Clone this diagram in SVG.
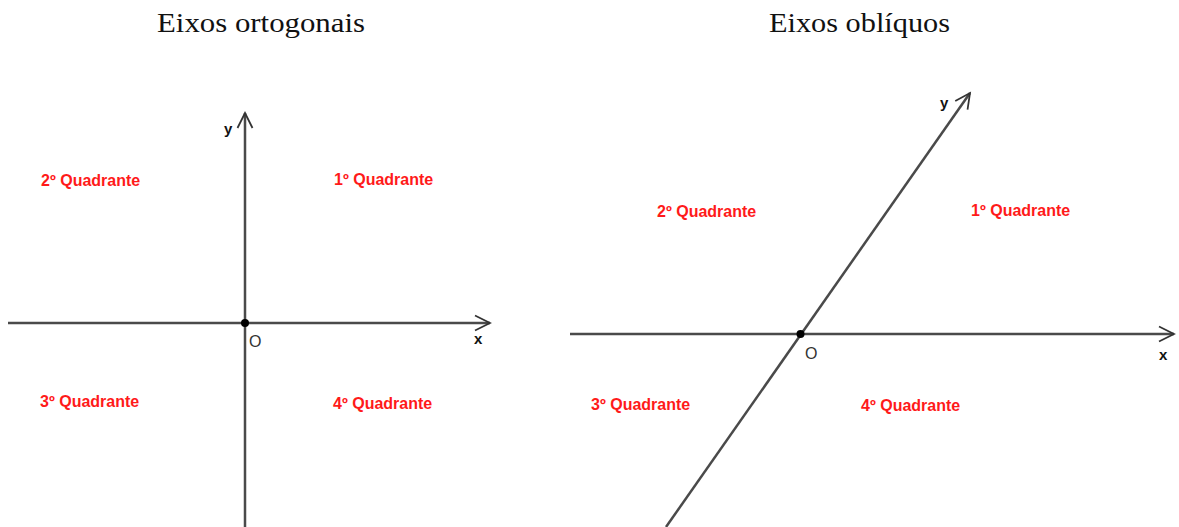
<svg xmlns="http://www.w3.org/2000/svg" width="1179" height="527" viewBox="0 0 1179 527">
<style>
.title{font-family:"Liberation Serif","DejaVu Serif",serif;font-size:27px;fill:#111;text-anchor:middle}
.q{font-family:"Liberation Sans",Arial,sans-serif;font-size:16px;font-weight:bold;fill:#ff1a1a}
.ax{font-family:"Liberation Sans",Arial,sans-serif;font-size:15px;font-weight:bold;fill:#111}
.o{font-family:"Liberation Sans",Arial,sans-serif;font-size:16px;fill:#333}
.axis{stroke:#4a4a4a;stroke-width:2.5;fill:none}
</style>
<defs>
<marker id="arr" markerUnits="userSpaceOnUse" markerWidth="20" markerHeight="20" viewBox="-14 -8 16 16" refX="0" refY="0" orient="auto">
<path d="M-12,-6 L0,0 L-12,6" fill="none" stroke="#333" stroke-width="1.4"/>
</marker>
</defs>
<text class="title" x="261" y="32" textLength="208" lengthAdjust="spacingAndGlyphs">Eixos ortogonais</text>
<text class="title" x="859.5" y="32" textLength="181" lengthAdjust="spacingAndGlyphs">Eixos oblíquos</text>
<g id="connectors">
<line class="axis" x1="8" y1="323" x2="490" y2="323" marker-end="url(#arr)"/>
<line class="axis" x1="245" y1="527" x2="245" y2="113" marker-end="url(#arr)"/>
<line class="axis" x1="570" y1="334" x2="1174" y2="334" marker-end="url(#arr)"/>
<line class="axis" x1="666" y1="527" x2="970" y2="93" marker-end="url(#arr)"/>
</g>
<g id="origin-left"><circle cx="245" cy="323" r="4" fill="#000"/><text class="o" x="249" y="347">O</text></g>
<g id="origin-right"><circle cx="800.5" cy="334" r="4" fill="#000"/><text class="o" x="805" y="359">O</text></g>
<g id="labels-left">
<text class="ax" x="224" y="134">y</text>
<text class="ax" x="474" y="344">x</text>
<text class="q" x="41" y="186">2º Quadrante</text>
<text class="q" x="334" y="185">1º Quadrante</text>
<text class="q" x="40" y="407">3º Quadrante</text>
<text class="q" x="333" y="409">4º Quadrante</text>
</g>
<g id="labels-right">
<text class="ax" x="940" y="108">y</text>
<text class="ax" x="1159" y="360">x</text>
<text class="q" x="657" y="217">2º Quadrante</text>
<text class="q" x="971" y="216">1º Quadrante</text>
<text class="q" x="591" y="410">3º Quadrante</text>
<text class="q" x="861" y="411">4º Quadrante</text>
</g>
</svg>
